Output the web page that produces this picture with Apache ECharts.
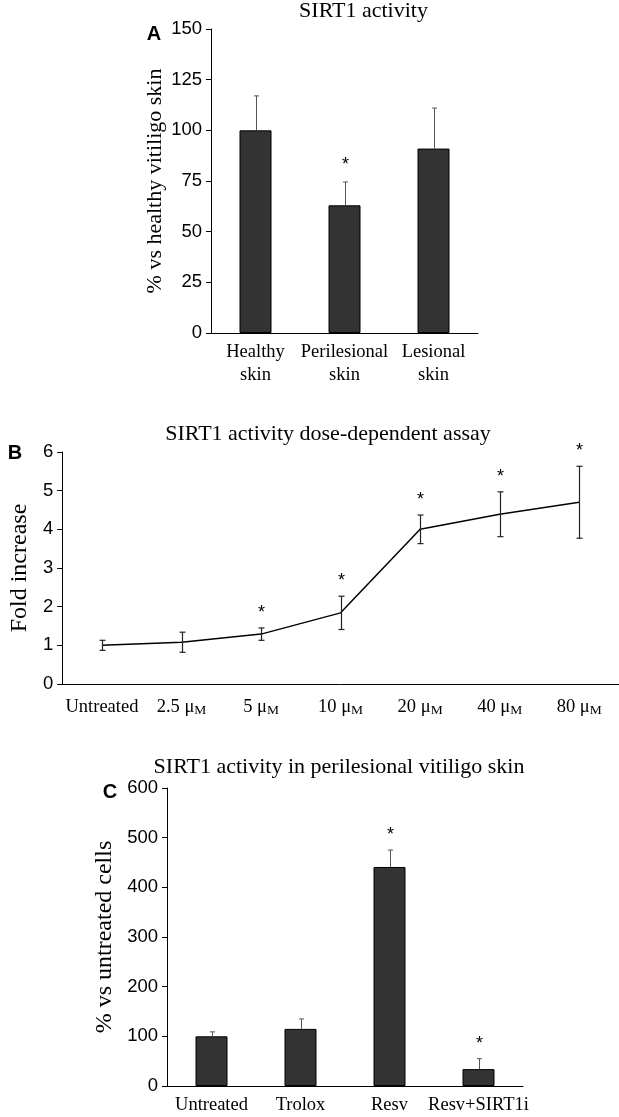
<!DOCTYPE html>
<html><head><meta charset="utf-8">
<script src="https://cdn.jsdelivr.net/npm/echarts@6/dist/echarts.min.js"></script>
<style>html,body{margin:0;padding:0;background:#fff}#c{width:619px;height:1117px}</style>
</head><body><div id="c"></div>
<script>
// ---- Panel A ----
const catA = ['Healthy\nskin', 'Perilesional\nskin', 'Lesional\nskin'];
const valA = [100, 63, 91];
const errA = [17, 11.5, 20];
const sigA = [0, 1, 0];
const yTicksA = [0, 25, 50, 75, 100, 125, 150];
// ---- Panel B ----
const catB = ['Untreated', '2.5 μM', '5 μM', '10 μM', '20 μM', '40 μM', '80 μM'];
const valB = [1.0, 1.08, 1.29, 1.84, 4.0, 4.39, 4.70];
const errB = [0.13, 0.26, 0.16, 0.43, 0.37, 0.58, 0.93];
const sigB = [0, 0, 1, 1, 1, 1, 1];
const yTicksB = [0, 1, 2, 3, 4, 5, 6];
// ---- Panel C ----
const catC = ['Untreated', 'Trolox', 'Resv', 'Resv+SIRT1i'];
const valC = [100, 115, 441, 34];
const errC = [9, 20, 34, 21];
const sigC = [0, 0, 1, 1];
const yTicksC = [0, 100, 200, 300, 400, 500, 600];

const titles = ['SIRT1 activity', 'SIRT1 activity dose-dependent assay', 'SIRT1 activity in perilesional vitiligo skin'];
const letters = ['A', 'B', 'C'];
const yNames = ['% vs healthy vitiligo skin', 'Fold increase', '% vs untreated cells'];

const SERIF = '"Liberation Serif", "Times New Roman", serif';
const SANS = '"Liberation Sans", Arial, sans-serif';

function errRender(both, capW, color, lw, gap) {
  return function (params, api) {
    const i = api.value(0), v = api.value(1), e = api.value(2), s = api.value(3);
    const p = api.coord([i, v]);
    const t = api.coord([i, v + e]);
    const b = both ? api.coord([i, v - e]) : p;
    const x = Math.round(p[0]) + 0.5;
    const st = { stroke: color, lineWidth: lw };
    const ch = [
      { type: 'line', shape: { x1: x, y1: b[1], x2: x, y2: t[1] }, style: st },
      { type: 'line', shape: { x1: x - capW, y1: t[1], x2: x + capW, y2: t[1] }, style: st }
    ];
    if (both) ch.push({ type: 'line', shape: { x1: x - capW, y1: b[1], x2: x + capW, y2: b[1] }, style: st });
    if (s) ch.push({ type: 'text', x: x, y: t[1] - gap, style: { text: '*', fill: '#000', fontSize: 18, fontFamily: SANS, align: 'center', verticalAlign: 'middle' } });
    return { type: 'group', children: ch };
  };
}

function xAx(idx, cats, margin, fmt) {
  return {
    type: 'category', gridIndex: idx, data: cats,
    axisLine: { lineStyle: { color: '#000', width: 1 } },
    axisTick: { length: 5, lineStyle: { color: '#000' } },
    axisLabel: Object.assign({
      interval: 0, color: '#000', fontFamily: SERIF, fontSize: 18.5, lineHeight: 23, margin: margin
    }, fmt || {})
  };
}
function yAx(idx, ticks, name, gap, nameSize) {
  return {
    type: 'value', gridIndex: idx, min: ticks[0], max: ticks[ticks.length - 1], interval: ticks[1] - ticks[0],
    axisLine: { show: true, lineStyle: { color: '#000', width: 1 } },
    axisTick: { show: true, length: 5, lineStyle: { color: '#000' } },
    splitLine: { show: false },
    axisLabel: { color: '#000', fontFamily: SANS, fontSize: 18.5, margin: 9 },
    name: name, nameLocation: 'middle', nameGap: gap,
    nameTextStyle: { color: '#000', fontFamily: SERIF, fontSize: nameSize }
  };
}
const toData = (v, e, s) => v.map((x, i) => [i, x, e[i], s[i]]);

const option = {
  animation: false,
  backgroundColor: '#fff',
  grid: [
    { left: 211, top: 29, width: 267, height: 304 },
    { left: 51, top: 452, width: 568, height: 232 },
    { left: 167, top: 788, width: 356, height: 304 }
  ],
  xAxis: [
    xAx(0, catA, 8),
    xAx(1, catB, 10, {
      formatter: function (v) { return /μM$/.test(v) ? '{n|' + v.slice(0, -1) + '}{m|M}' : '{n|' + v + '}'; },
      rich: {
        n: { fontFamily: SERIF, fontSize: 18.5, color: '#000', verticalAlign: 'bottom', lineHeight: 23 },
        m: { fontFamily: SERIF, fontSize: 13.5, color: '#000', verticalAlign: 'bottom', lineHeight: 21 }
      }
    }),
    xAx(2, catC, 8)
  ],
  yAxis: [
    yAx(0, yTicksA, yNames[0], 45, 22),
    yAx(1, yTicksB, yNames[1], 30, 24),
    yAx(2, yTicksC, yNames[2], 50, 24)
  ],
  graphic: [
    { type: 'text', x: 363.5, y: 11, style: { text: titles[0], fontFamily: SERIF, fontSize: 22, fill: '#000', align: 'center', verticalAlign: 'middle' } },
    { type: 'text', x: 328, y: 434, style: { text: titles[1], fontFamily: SERIF, fontSize: 22, fill: '#000', align: 'center', verticalAlign: 'middle' } },
    { type: 'text', x: 339, y: 767, style: { text: titles[2], fontFamily: SERIF, fontSize: 22, fill: '#000', align: 'center', verticalAlign: 'middle' } },
    { type: 'text', x: 154, y: 34, style: { text: letters[0], fontFamily: SANS, fontWeight: 'bold', fontSize: 20, fill: '#000', align: 'center', verticalAlign: 'middle' } },
    { type: 'text', x: 15, y: 453, style: { text: letters[1], fontFamily: SANS, fontWeight: 'bold', fontSize: 20, fill: '#000', align: 'center', verticalAlign: 'middle' } },
    { type: 'text', x: 110, y: 792, style: { text: letters[2], fontFamily: SANS, fontWeight: 'bold', fontSize: 20, fill: '#000', align: 'center', verticalAlign: 'middle' } }
  ],
  series: [
    { type: 'bar', xAxisIndex: 0, yAxisIndex: 0, data: valA, barWidth: 32,
      itemStyle: { color: '#333', borderColor: '#000', borderWidth: 1 } },
    { type: 'custom', xAxisIndex: 0, yAxisIndex: 0, data: toData(valA, errA, sigA), encode: { x: 0, y: 1 },
      renderItem: errRender(false, 2.5, '#555', 1, 17), z: 5 },
    { type: 'line', xAxisIndex: 1, yAxisIndex: 1, data: valB, showSymbol: false, symbol: 'none',
      lineStyle: { color: '#000', width: 1.5 } },
    { type: 'custom', xAxisIndex: 1, yAxisIndex: 1, data: toData(valB, errB, sigB), encode: { x: 0, y: 1 },
      renderItem: errRender(true, 3, '#222', 1.2, 15), z: 5 },
    { type: 'bar', xAxisIndex: 2, yAxisIndex: 2, data: valC, barWidth: 32,
      itemStyle: { color: '#333', borderColor: '#000', borderWidth: 1 } },
    { type: 'custom', xAxisIndex: 2, yAxisIndex: 2, data: toData(valC, errC, sigC), encode: { x: 0, y: 1 },
      renderItem: errRender(false, 2.5, '#555', 1, 15), z: 5 }
  ]
};
echarts.init(document.getElementById('c')).setOption(option);
</script>
</body></html>
